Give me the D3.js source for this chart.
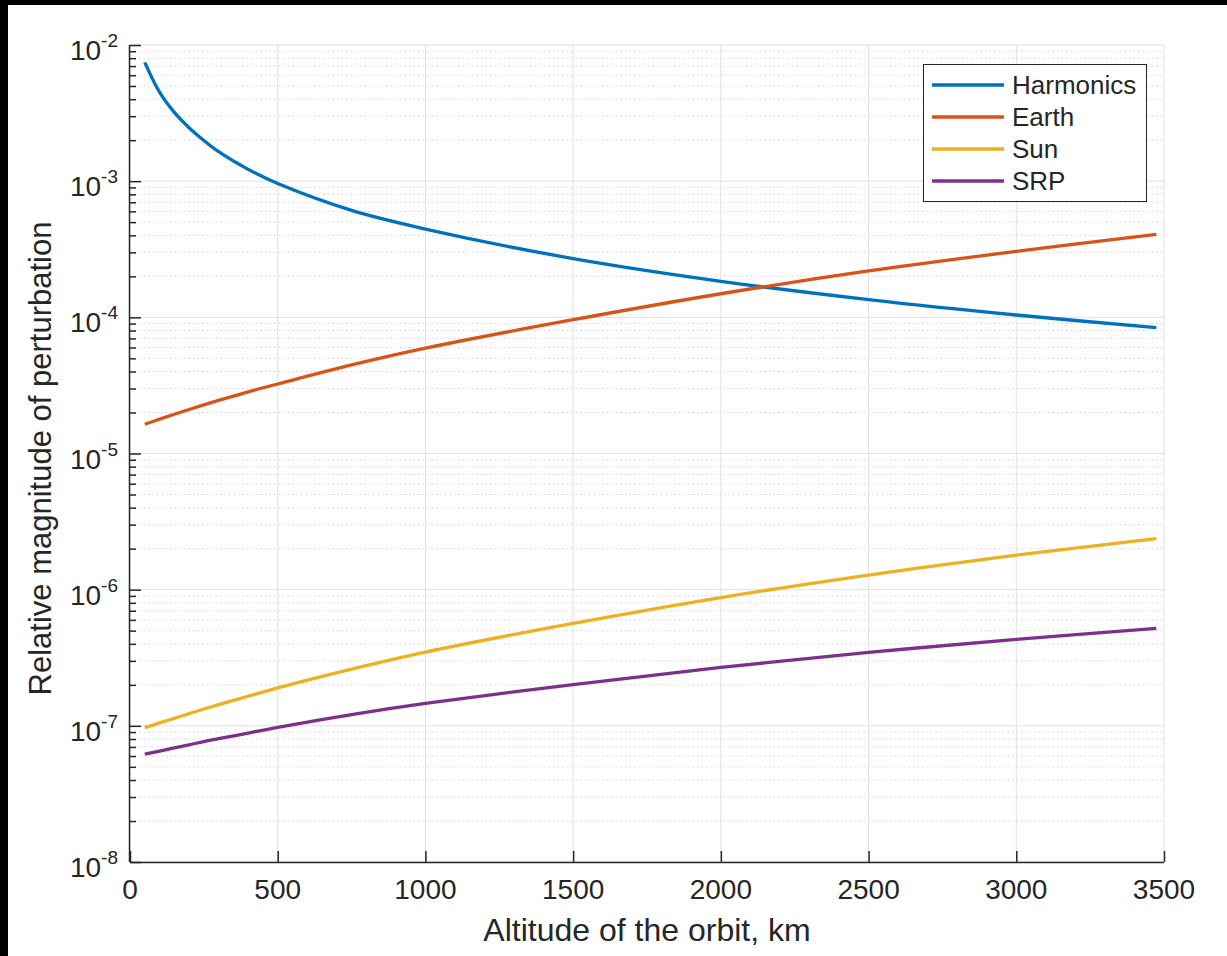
<!DOCTYPE html>
<html>
<head>
<meta charset="utf-8">
<script src="https://cdn.jsdelivr.net/npm/d3@7"></script>
<style>
  html, body { margin: 0; padding: 0; background: #000; }
  svg { display: block; }
  text { font-family: Helvetica, Arial, "Liberation Sans", sans-serif; fill: #262626; }
  .grid-major { stroke: #e0e0e0; stroke-width: 1; }
  .grid-minor { stroke: #d2d2d2; stroke-width: 1; stroke-dasharray: 1.5,3; }
  .series { fill: none; stroke-width: 3.3; stroke-linejoin: round; }
</style>
</head>
<body>
<svg width="1227" height="956"></svg>
<script>
// altitude samples (km)
const altitude = [50, 100, 150, 200, 250, 300, 400, 500, 750, 1000, 1500, 2000, 2500, 3000, 3474];

// relative magnitudes
const harmonics = [7.46e-3, 4.5e-3, 3.2e-3, 2.47e-3, 1.99e-3, 1.645e-3, 1.22e-3, 9.6e-4, 6.1e-4, 4.45e-4, 2.7e-4, 1.84e-4, 1.35e-4, 1.04e-4, 8.4e-5];
const earth     = [1.64e-5, 1.787e-5, 1.941e-5, 2.104e-5, 2.275e-5, 2.455e-5, 2.838e-5, 3.24e-5, 4.47e-5, 5.94e-5, 9.6e-5, 1.49e-4, 2.19e-4, 3.05e-4, 4.06e-4];
const sun       = [9.7e-8, 1.05e-7, 1.135e-7, 1.23e-7, 1.33e-7, 1.43e-7, 1.65e-7, 1.9e-7, 2.61e-7, 3.48e-7, 5.65e-7, 8.75e-7, 1.28e-6, 1.79e-6, 2.37e-6];
const srp       = [6.2e-8, 6.53e-8, 6.89e-8, 7.26e-8, 7.66e-8, 8.04e-8, 8.85e-8, 9.75e-8, 1.21e-7, 1.46e-7, 2.01e-7, 2.69e-7, 3.46e-7, 4.31e-7, 5.19e-7];

const seriesNames = ['Harmonics', 'Earth', 'Sun', 'SRP'];
const seriesColors = ['#0072BD', '#D95319', '#EDB120', '#7E2F8E'];
const seriesValues = [harmonics, earth, sun, srp];

const xTicks = [0, 500, 1000, 1500, 2000, 2500, 3000, 3500];
const yExponents = [-8, -7, -6, -5, -4, -3, -2];

const M = { left: 130, right: 1164, top: 45, bottom: 862 };

const svg = d3.select('svg');
svg.append('rect')
    .attr('x', 8).attr('y', 5)
    .attr('width', 1227 - 8).attr('height', 956 - 5)
    .attr('fill', '#fff');

const x = d3.scaleLinear().domain([0, 3500]).range([M.left, M.right]);
const y = d3.scaleLog().domain([1e-8, 1e-2]).range([M.bottom, M.top]);

// minor y values (2..9 in each decade)
const minorY = [];
yExponents.slice(0, -1).forEach(e => {
    for (let k = 2; k <= 9; k++) minorY.push(k * Math.pow(10, e));
});
const majorY = yExponents.map(e => Math.pow(10, e));

const grid = svg.append('g');
grid.selectAll('.gm')
    .data(minorY)
    .enter().append('line')
    .attr('class', 'grid-minor')
    .attr('x1', M.left).attr('x2', M.right)
    .attr('y1', d => y(d)).attr('y2', d => y(d));
grid.selectAll('.gy')
    .data(majorY)
    .enter().append('line')
    .attr('class', 'grid-major')
    .attr('x1', M.left).attr('x2', M.right)
    .attr('y1', d => y(d)).attr('y2', d => y(d));
grid.selectAll('.gx')
    .data(xTicks)
    .enter().append('line')
    .attr('class', 'grid-major')
    .attr('x1', d => x(d)).attr('x2', d => x(d))
    .attr('y1', M.top).attr('y2', M.bottom);

// axes (left + bottom only, ticks pointing inward)
const xAxis = d3.axisBottom(x).tickValues(xTicks).tickSize(-11).tickFormat('');
svg.append('g')
    .attr('transform', `translate(0,${M.bottom})`)
    .call(xAxis)
    .call(g => g.select('.domain').attr('d', `M${M.left},0.5H${M.right}`));

const yAxis = d3.axisLeft(y).tickValues(majorY).tickSize(-11).tickFormat('');
svg.append('g')
    .attr('transform', `translate(${M.left},0)`)
    .call(yAxis)
    .call(g => g.select('.domain').attr('d', `M-0.5,${M.top}V${M.bottom}`));

const yMinorAxis = d3.axisLeft(y).tickValues(minorY).tickSize(-6).tickFormat('');
svg.append('g')
    .attr('transform', `translate(${M.left},0)`)
    .call(yMinorAxis)
    .call(g => g.select('.domain').remove());

svg.selectAll('.domain, .tick line').attr('stroke', '#262626').attr('stroke-width', 1.5);

// tick labels
svg.append('g').selectAll('text')
    .data(xTicks)
    .enter().append('text')
    .attr('x', d => x(d))
    .attr('y', 899)
    .attr('text-anchor', 'middle')
    .attr('font-size', 28)
    .text(d => d);

const yLab = svg.append('g').selectAll('text')
    .data(yExponents)
    .enter().append('text')
    .attr('x', 118)
    .attr('y', e => y(Math.pow(10, e)) + 15)
    .attr('text-anchor', 'end')
    .attr('font-size', 28);
yLab.append('tspan').text('10');
yLab.append('tspan').attr('dy', -13).attr('font-size', 19).text(e => e);

// axis titles
svg.append('text')
    .attr('x', (M.left + M.right) / 2)
    .attr('y', 941)
    .attr('text-anchor', 'middle')
    .attr('font-size', 32)
    .text('Altitude of the orbit, km');

svg.append('text')
    .attr('transform', `translate(51,${(M.top + M.bottom) / 2 + 5}) rotate(-90)`)
    .attr('text-anchor', 'middle')
    .attr('font-size', 31)
    .text('Relative magnitude of perturbation');

// series lines
const line = d3.line()
    .x(d => x(d[0]))
    .y(d => y(d[1]))
    .curve(d3.curveCatmullRom.alpha(0.5));

svg.append('g').selectAll('path')
    .data(seriesValues)
    .enter().append('path')
    .attr('class', 'series')
    .attr('stroke', (d, i) => seriesColors[i])
    .attr('d', vals => line(altitude.map((a, i) => [a, vals[i]])));

// legend
const legend = svg.append('g');
legend.append('rect')
    .attr('x', 923.5).attr('y', 64.5)
    .attr('width', 223).attr('height', 137)
    .attr('fill', '#fff')
    .attr('stroke', '#262626')
    .attr('stroke-width', 1);
const items = legend.selectAll('.item')
    .data(seriesNames)
    .enter().append('g')
    .attr('transform', (d, i) => `translate(0,${85 + i * 32})`);
items.append('line')
    .attr('x1', 932).attr('x2', 1004)
    .attr('stroke', (d, i) => seriesColors[i])
    .attr('stroke-width', 3.3);
items.append('text')
    .attr('x', 1012)
    .attr('y', 9)
    .attr('font-size', 26)
    .text(d => d);
</script>
</body>
</html>
